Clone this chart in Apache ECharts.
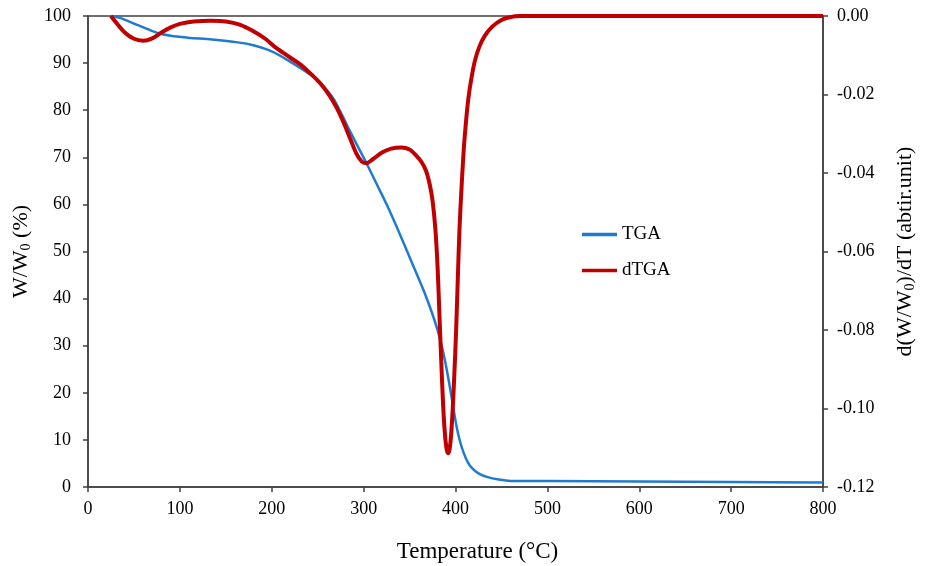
<!DOCTYPE html>
<html>
<head>
<meta charset="utf-8">
<script src="https://cdn.jsdelivr.net/npm/echarts@6/dist/echarts.min.js"></script>
<style>html,body{margin:0;padding:0;background:#fff;}#c{width:925px;height:566px;}</style>
</head>
<body>
<div id="c"></div>
<script>
// Temperature (°C) and weight fraction (%) for TGA
const tgaTemp = [25,35,45,55,65,76,90,109,135,163,180,196,210,225,240,250,260,268,277,285,295,303,315,327,337,347,357,366,374,380,385,389,393,397,401,405,409,413,418,425,435,447,460,500,600,700,800];
const tgaVal  = [100,99.6,98.8,98.0,97.2,96.4,95.8,95.4,95.0,94.4,93.8,92.8,91.5,89.7,87.8,86.4,84.3,82.2,78.8,75.6,71.8,68.8,64,59.2,54.8,50.2,45.6,41.4,37.2,33.6,30.0,26.4,22.2,17.6,13.0,9.6,7.2,5.4,4.0,2.9,2.1,1.6,1.3,1.25,1.15,1.05,0.95];
// Temperature (°C) and derivative for dTGA
const dtgaTemp = [25,30,40,50,60,70,80,90,100,115,134,150,165,181,193,203,215,232,245,253,262,270,277,285,292,298,303,310,320,330,341,350,357,363,368,372,375,378,380.5,382.5,384.5,386.5,388.5,390.3,392,393.6,395.3,397,398.8,400.7,402.5,404.3,406.5,409,411.6,414,417,421,426,432,440,450,459,470,500,600,700,800];
const dtgaVal  = [0,-0.0015,-0.0042,-0.0058,-0.0063,-0.0057,-0.0042,-0.0029,-0.002,-0.0014,-0.0012,-0.0014,-0.0022,-0.004,-0.0058,-0.0078,-0.0098,-0.0125,-0.0153,-0.0172,-0.02,-0.0231,-0.0265,-0.031,-0.035,-0.0371,-0.0375,-0.0365,-0.0348,-0.0338,-0.0335,-0.034,-0.0355,-0.0372,-0.0395,-0.043,-0.047,-0.054,-0.064,-0.076,-0.088,-0.099,-0.1065,-0.1103,-0.1114,-0.1103,-0.1065,-0.1,-0.091,-0.08,-0.067,-0.0545,-0.044,-0.034,-0.0265,-0.021,-0.0163,-0.0115,-0.0078,-0.005,-0.0027,-0.001,-0.0003,0,0,0,0,0];
const seriesNames = ['TGA','dTGA'];

const chart = echarts.init(document.getElementById('c'));
const font = 'Liberation Serif';
const axisLine = {show:true, lineStyle:{color:'#404040', width:1.5}};
const tick = {show:true, length:5, lineStyle:{color:'#404040', width:1.5}};
const subRich = {s:{fontFamily:font, fontSize:14, verticalAlign:'bottom', padding:[10,0,0,0]}};
chart.setOption({
  animation:false,
  backgroundColor:'#fff',
  grid:{left:88, right:102, top:16, bottom:79, show:true, borderColor:'#404040', borderWidth:1.5,
        containLabel:false, outerBoundsMode:'none'},
  legend:{
    orient:'vertical', left:577, top:220, itemGap:17,
    itemWidth:35, itemHeight:3.5, icon:'rect',
    textStyle:{fontFamily:font, fontSize:19, color:'#000'},
    data:seriesNames
  },
  xAxis:{
    type:'value', min:0, max:800, interval:100,
    axisLine:axisLine, axisTick:tick,
    splitLine:{show:false},
    axisLabel:{fontFamily:font, fontSize:18, color:'#000', margin:13},
    name:'Temperature (°C)', nameLocation:'middle', nameGap:53,
    nameTextStyle:{fontFamily:font, fontSize:23, color:'#000', padding:[0,0,0,44]}
  },
  yAxis:[{
    type:'value', min:0, max:100, interval:10, position:'left',
    axisLine:axisLine, axisTick:tick,
    splitLine:{show:false},
    axisLabel:{fontFamily:font, fontSize:18, color:'#000', margin:17},
    name:'W/W{s|0} (%)', nameLocation:'middle', nameGap:54, nameRotate:90,
    nameTextStyle:{fontFamily:font, fontSize:22, color:'#000', rich:subRich}
  },{
    type:'value', min:-0.12, max:0, interval:0.02, position:'right',
    axisLine:axisLine, axisTick:tick,
    splitLine:{show:false},
    axisLabel:{fontFamily:font, fontSize:18, color:'#000', margin:14,
      formatter:v=>v.toFixed(2).replace('-0.00','0.00')},
    name:'d(W/W{s|0})/dT (abtir.unit)', nameLocation:'middle', nameGap:70, nameRotate:90,
    nameTextStyle:{fontFamily:font, fontSize:22, color:'#000', rich:subRich}
  }],
  series:[{
    name:seriesNames[0], type:'line', yAxisIndex:0, showSymbol:false, smooth:0.3,
    lineStyle:{color:'#1f7bd0', width:2.5}, itemStyle:{color:'#1f7bd0'},
    data:tgaTemp.map((t,i)=>[t,tgaVal[i]]), z:2
  },{
    name:seriesNames[1], type:'line', yAxisIndex:1, showSymbol:false, smooth:0.3,
    lineStyle:{color:'#c00000', width:4}, itemStyle:{color:'#c00000'},
    data:dtgaTemp.map((t,i)=>[t,dtgaVal[i]]), z:3
  }]
});
</script>
</body>
</html>
